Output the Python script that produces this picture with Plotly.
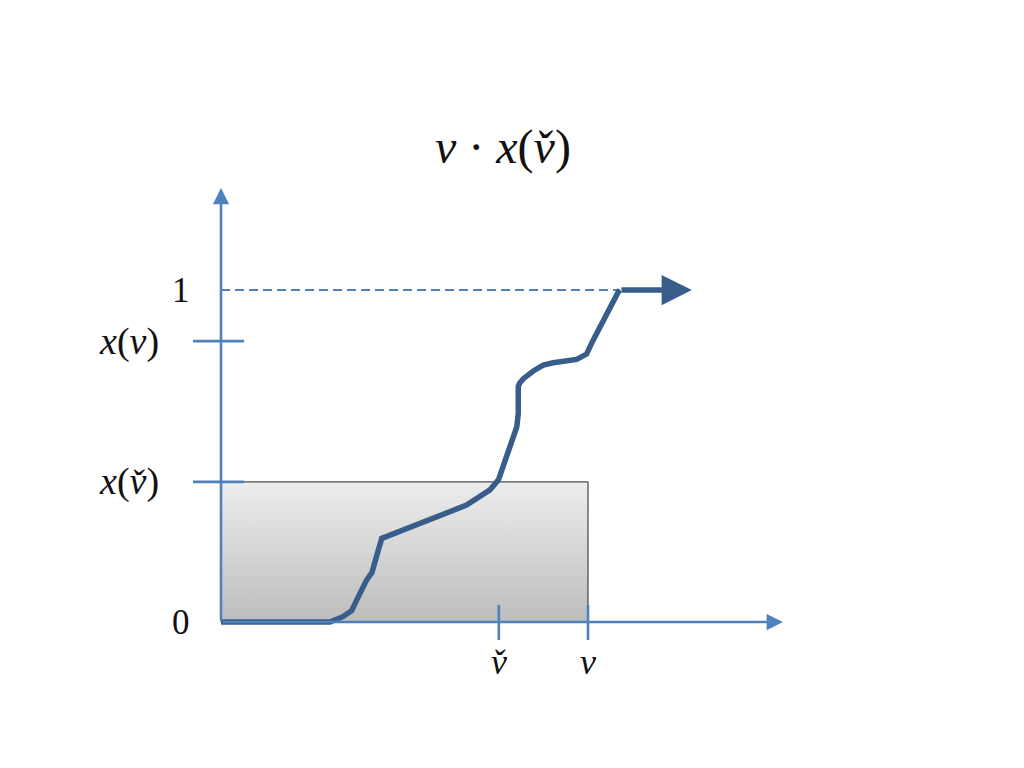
import plotly.graph_objects as go

# ---- data ----
v_check = 0.757      # v̌
v_val = 1.0          # v
x_v_check = 0.422    # x(v̌)
x_v = 0.846          # x(v)

curve_x = [0.0, 0.297, 0.332, 0.356, 0.379, 0.397, 0.411, 0.420, 0.438, 0.669, 0.706,
           0.733, 0.756, 0.769, 0.783, 0.796, 0.806, 0.810, 0.810, 0.814, 0.824, 0.851,
           0.878, 0.905, 0.933, 0.969, 0.996, 1.005, 1.014, 1.083, 1.087]
curve_y = [0.0, 0.0, 0.016, 0.034, 0.087, 0.127, 0.148, 0.187, 0.252, 0.352, 0.377,
           0.398, 0.428, 0.468, 0.508, 0.548, 0.588, 0.628, 0.709, 0.720, 0.733, 0.756,
           0.774, 0.781, 0.784, 0.791, 0.807, 0.829, 0.849, 0.995, 1.0]
curve_end_x = 1.283

title_text = "<i>v</i> · <i>x</i>(<i>v̌</i>)"
y_num_labels = ["0", "1"]
y_num_vals = [0.0, 1.0]
y_fn_labels = ["<i>x</i>(<i>v̌</i>)", "<i>x</i>(<i>v</i>)"]
y_fn_vals = [x_v_check, x_v]
x_tick_labels = ["<i>v̌</i>", "<i>v</i>"]
x_tick_vals = [v_check, v_val]

# ---- layout constants ----
X_AXIS_END = 1.531
Y_AXIS_END = 1.307
AX_BLUE = "#4F81BD"
CURVE_BLUE = "#385D8A"
FONT = "Liberation Serif"
TXT = "#111111"

fig = go.Figure()

# gradient rectangle v * x(v̌)
fig.add_trace(go.Scatter(
    x=[0, v_val, v_val, 0, 0], y=[0, 0, x_v_check, x_v_check, 0],
    mode="lines", fill="toself",
    fillgradient=dict(type="vertical",
                      colorscale=[[0, "#BDBDBD"], [1, "#EDEDED"]]),
    line=dict(color="#222222", width=1), hoverinfo="skip", showlegend=False))

# dashed line at y = 1
fig.add_trace(go.Scatter(
    x=[0, curve_x[-1]], y=[1.0, 1.0], mode="lines",
    line=dict(color=AX_BLUE, width=2, dash="9px,5px"),
    hoverinfo="skip", showlegend=False))

# y-axis ticks
for yv in y_fn_vals:
    fig.add_trace(go.Scatter(
        x=[-0.0763, 0.0627], y=[yv, yv], mode="lines",
        line=dict(color=AX_BLUE, width=2.6), hoverinfo="skip", showlegend=False))
# x-axis ticks
for xv in x_tick_vals:
    fig.add_trace(go.Scatter(
        x=[xv, xv], y=[0.0512, -0.0542], mode="lines",
        line=dict(color=AX_BLUE, width=2.6), hoverinfo="skip", showlegend=False))

# the curve
fig.add_trace(go.Scatter(
    x=curve_x, y=curve_y, mode="lines",
    line=dict(color=CURVE_BLUE, width=5.5),
    hoverinfo="skip", showlegend=False))

annotations = []
# axes as arrows
annotations.append(dict(x=X_AXIS_END, y=0, ax=0, ay=0, xref="x", yref="y",
                        axref="x", ayref="y", text="", showarrow=True,
                        arrowhead=2, arrowwidth=2.6, arrowsize=1.25,
                        arrowcolor=AX_BLUE))
annotations.append(dict(x=0, y=Y_AXIS_END, ax=0, ay=0, xref="x", yref="y",
                        axref="x", ayref="y", text="", showarrow=True,
                        arrowhead=2, arrowwidth=2.6, arrowsize=1.25,
                        arrowcolor=AX_BLUE))
# curve end arrow
annotations.append(dict(x=curve_end_x, y=1.0, ax=curve_x[-1], ay=1.0, xref="x",
                        yref="y", axref="x", ayref="y", text="", showarrow=True,
                        arrowhead=2, arrowwidth=5.5, arrowsize=1.1,
                        arrowcolor=CURVE_BLUE))

# labels
for lab, yv in zip(y_num_labels, y_num_vals):
    annotations.append(dict(x=-0.109, y=yv, xref="x", yref="y", text=lab,
                            showarrow=False, xanchor="center", yanchor="middle",
                            font=dict(family=FONT, size=35, color=TXT)))
for lab, yv in zip(y_fn_labels, y_fn_vals):
    annotations.append(dict(x=-0.163, y=yv, xref="x", yref="y", text=lab,
                            showarrow=False, xanchor="right", yanchor="middle",
                            font=dict(family=FONT, size=38, color=TXT)))
for lab, xv in zip(x_tick_labels, x_tick_vals):
    annotations.append(dict(x=xv, y=-0.12, xref="x", yref="y", text=lab,
                            showarrow=False, xanchor="center", yanchor="middle",
                            font=dict(family=FONT, size=36, color=TXT)))
annotations.append(dict(x=503, y=768 - 147, xref="x2", yref="y2", text=title_text,
                        showarrow=False, xanchor="center", yanchor="middle",
                        font=dict(family=FONT, size=48, color=TXT)))

fig.update_layout(
    width=1024, height=768,
    margin=dict(l=0, r=0, t=0, b=0),
    paper_bgcolor="white", plot_bgcolor="white",
    xaxis=dict(range=[-221 / 367, 803 / 367], visible=False, fixedrange=True),
    yaxis=dict(range=[(622 - 768) / 332, 622 / 332], visible=False, fixedrange=True),
    xaxis2=dict(range=[0, 1024], visible=False, overlaying="x"),
    yaxis2=dict(range=[0, 768], visible=False, overlaying="y"),
    annotations=annotations,
    showlegend=False,
)

fig.write_html("out.html", config={"displayModeBar": False, "staticPlot": True},
               post_script="document.body.style.margin='0';document.body.style.overflow='hidden';")
